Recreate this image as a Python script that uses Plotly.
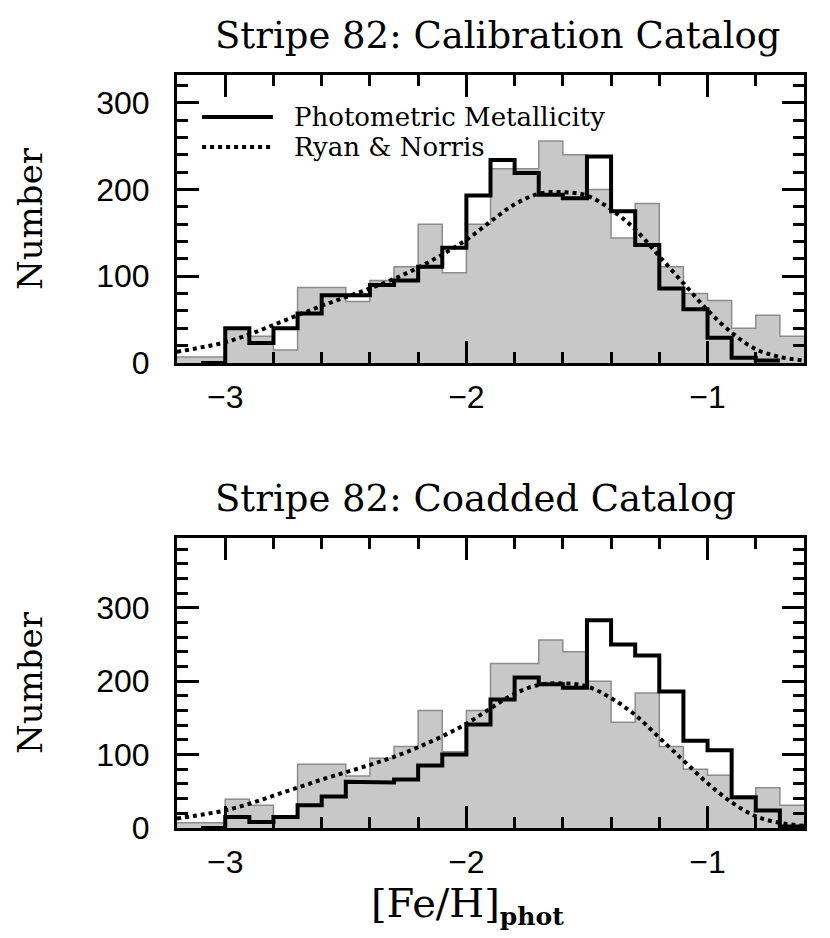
import plotly.graph_objects as go

# bin edges of [Fe/H]_phot (bin width 0.1)
feh_edges = [-3.2, -3.1, -3.0, -2.9, -2.8, -2.7, -2.6, -2.5, -2.4, -2.3, -2.2, -2.1, -2.0,
             -1.9, -1.8, -1.7, -1.6, -1.5, -1.4, -1.3, -1.2, -1.1, -1.0, -0.9, -0.8, -0.7, -0.6]

# grey filled histogram (same comparison sample in both panels)
grey_counts = [7, 7, 39, 31, 15, 87, 87, 71, 95, 111, 160, 104, 160,
               224, 224, 256, 240, 200, 144, 184, 111, 80, 72, 40, 55, 31]

# photometric metallicity histograms
calib_counts = [None, 0, 40, 23, 40, 57, 78, 78, 90, 95, 111, 133, 193,
                234, 219, 194, 190, 238, 175, 136, 86, 62, 29, 6, 3, None]
coadd_counts = [None, 0, 15, 8, 15, 31, 43, 63, 62, 66, 85, 100, 141,
                175, 205, 196, 191, 283, 250, 235, 186, 119, 106, 42, 24, 2]

# Ryan & Norris curve
rn_x = [-3.2, -3.1, -3.0, -2.9, -2.8, -2.7, -2.6, -2.5, -2.4, -2.3, -2.2, -2.1, -2.0,
        -1.9, -1.8, -1.7, -1.6, -1.5, -1.4, -1.3, -1.2, -1.1, -1.0, -0.9, -0.8, -0.7, -0.6]
rn_y = [13, 18, 24, 33, 44, 55, 66, 76, 86, 97, 110, 125, 142,
        163, 183, 195, 197, 193, 177, 154, 123, 92, 61, 35, 16, 7, 3]

panel_titles = ["Stripe 82: Calibration Catalog", "Stripe 82: Coadded Catalog"]
y_tops = [332, 395]

SERIF = "DejaVu Serif"
SANS = "Liberation Sans"


def steps(edges, counts):
    """turn bin counts into step outline points"""
    xs, ys = [], []
    for i, c in enumerate(counts):
        if c is None:
            continue
        xs += [edges[i], edges[i + 1]]
        ys += [c, c]
    return xs, ys


fig = go.Figure()

for k, phot in enumerate([calib_counts, coadd_counts]):
    xa = "x" if k == 0 else "x2"
    ya = "y" if k == 0 else "y2"
    gx, gy = steps(feh_edges, grey_counts)
    fig.add_trace(go.Scatter(x=gx, y=gy, mode="lines", fill="tozeroy",
                             fillcolor="#c8c8c8", line=dict(color="#8c8c8c", width=1.5),
                             xaxis=xa, yaxis=ya, showlegend=False))
    fig.add_trace(go.Scatter(x=rn_x, y=rn_y, mode="lines", line_shape="spline",
                             line=dict(color="black", width=4, dash="dot"),
                             xaxis=xa, yaxis=ya, name="Ryan & Norris", showlegend=False))
    bx, by = steps(feh_edges, phot)
    fig.add_trace(go.Scatter(x=bx, y=by, mode="lines",
                             line=dict(color="black", width=4),
                             xaxis=xa, yaxis=ya, name="Photometric Metallicity",
                             showlegend=False))

common = dict(showline=True, linewidth=3, linecolor="black", mirror="allticks",
              ticks="inside", tickwidth=3, tickcolor="black", showgrid=False,
              zeroline=False, tickfont=dict(family=SANS, size=32, color="black"))

xaxis = dict(common, range=[-3.2, -0.6], tick0=-3, dtick=1, ticklen=22,
             minor=dict(dtick=0.2, tick0=-3, ticks="inside", ticklen=11, tickwidth=3,
                        tickcolor="black", showgrid=False),
             ticklabelstandoff=4)
yaxis = dict(common, tick0=0, dtick=100, ticklen=22,
             minor=dict(dtick=20, ticks="inside", ticklen=11, tickwidth=3,
                        tickcolor="black", showgrid=False),
             ticklabelstandoff=18,
             title=dict(text="Number", font=dict(family=SERIF, size=34, color="black"),
                        standoff=44))

fig.update_layout(
    width=830, height=938,
    margin=dict(l=177, r=26, t=75, b=110),
    plot_bgcolor="white", paper_bgcolor="white",
    showlegend=False,
    xaxis=dict(xaxis, domain=[0, 1], anchor="y"),
    yaxis=dict(yaxis, domain=[0.6175, 1], range=[0, y_tops[0]], anchor="x"),
    xaxis2=dict(xaxis, domain=[0, 1], anchor="y2"),
    yaxis2=dict(yaxis, domain=[0, 0.385], range=[0, y_tops[1]], anchor="x2"),
)

# x-axis label under the lower panel
fig.add_annotation(text="[Fe/H]<sub><b><span style='font-size:25px'>phot</span></b></sub>",
                   xref="x2 domain", yref="y2 domain", x=0.464, y=0, yshift=-77,
                   xanchor="center", yanchor="middle", showarrow=False,
                   font=dict(family=SERIF, size=40, color="black"))

# panel titles
for k, t in enumerate(panel_titles):
    yr = "y domain" if k == 0 else "y2 domain"
    xr = "x domain" if k == 0 else "x2 domain"
    fig.add_annotation(text=t, xref=xr, yref=yr, x=0.0574, y=1, yshift=40,
                       xanchor="left", yanchor="middle", showarrow=False,
                       font=dict(family=SERIF, size=37, color="black"))

# hand-drawn legend in the top panel
legend_items = [("Photometric Metallicity", "solid", 0.854),
                ("Ryan & Norris", "dot", 0.75)]
for label, dash, ypos in legend_items:
    fig.add_shape(type="line", xref="x domain", yref="y domain",
                  x0=0.040, x1=0.153, y0=ypos, y1=ypos,
                  line=dict(color="black", width=4, dash=dash))
    fig.add_annotation(text=label, xref="x domain", yref="y domain",
                       x=0.183, y=ypos, xanchor="left", yanchor="middle",
                       showarrow=False, font=dict(family=SERIF, size=26, color="black"))

# page body margin would shift the figure by 8px
fig.write_html("out.html", config={"displayModeBar": False},
               post_script="document.body.style.margin='0';")
